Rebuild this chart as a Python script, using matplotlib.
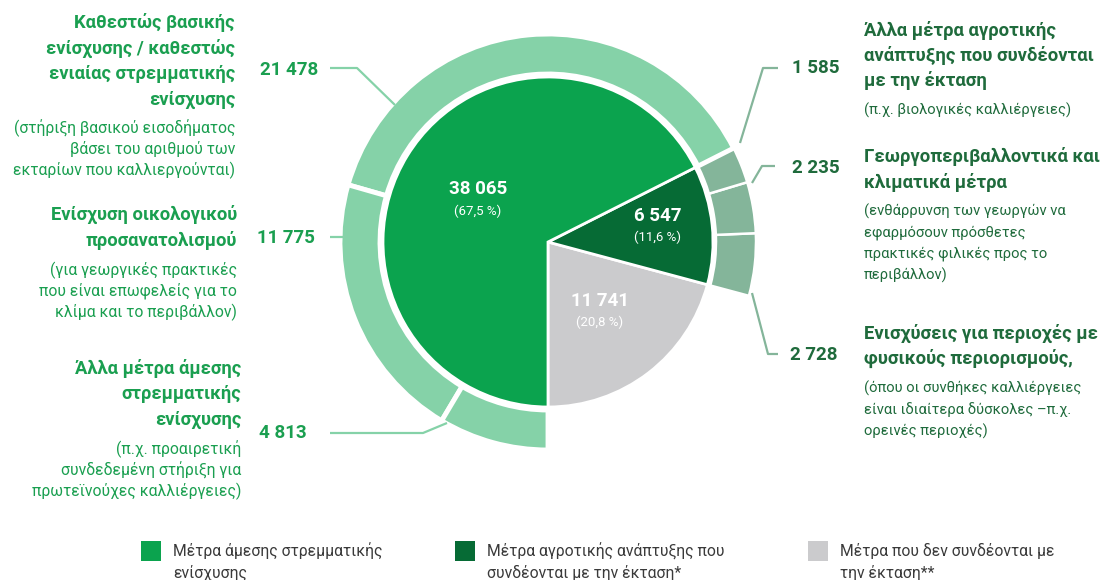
import numpy as np
import matplotlib
matplotlib.use('Agg')
import matplotlib.pyplot as plt
from matplotlib.patches import Rectangle

plt.rcParams['font.family'] = ['Roboto', 'DejaVu Sans']

# ---------------- data ----------------
main_categories = ['Μέτρα άμεσης στρεμματικής\nενίσχυσης',
                   'Μέτρα αγροτικής ανάπτυξης που\nσυνδέονται με την έκταση*',
                   'Μέτρα που δεν συνδέονται με\nτην έκταση**']
main_values = [38065, 6547, 11741]
main_value_labels = ['38 065', '6 547', '11 741']
main_pct_labels = ['(67,5 %)', '(11,6 %)', '(20,8 %)']

direct_values = [21478, 11775, 4813]
direct_value_labels = ['21 478', '11 775', '4 813']
direct_titles = ['Καθεστώς βασικής\nενίσχυσης / καθεστώς\nενιαίας στρεμματικής\nενίσχυσης',
                 'Ενίσχυση οικολογικού\nπροσανατολισμού',
                 'Άλλα μέτρα άμεσης\nστρεμματικής\nενίσχυσης']
direct_notes = ['(στήριξη βασικού εισοδήματος\nβάσει του αριθμού των\nεκταρίων που καλλιεργούνται)',
                '(για γεωργικές πρακτικές\nπου είναι επωφελείς για το\nκλίμα και το περιβάλλον)',
                '(π.χ. προαιρετική\nσυνδεδεμένη στήριξη για\nπρωτεϊνούχες καλλιέργειες)']

rural_values = [1585, 2235, 2728]
rural_value_labels = ['1 585', '2 235', '2 728']
rural_titles = ['Άλλα μέτρα αγροτικής\nανάπτυξης που συνδέονται\nμε την έκταση',
                'Γεωργοπεριβαλλοντικά και\nκλιματικά μέτρα',
                'Ενισχύσεις για περιοχές με\nφυσικούς περιορισμούς,']
rural_notes = ['(π.χ. βιολογικές καλλιέργειες)',
               '(ενθάρρυνση των γεωργών να\nεφαρμόσουν πρόσθετες\nπρακτικές φιλικές προς το\nπεριβάλλον)',
               '(όπου οι συνθήκες καλλιέργειες\nείναι ιδιαίτερα δύσκολες –π.χ.\nορεινές περιοχές)']

# ---------------- style ----------------
C_GREEN = '#0ba34e'
C_DARK = '#066b35'
C_GRAY = '#cbcbcd'
C_RING_L = '#85d2a8'
C_RING_R = '#84b59a'
C_TXT_L = '#1a9f50'
C_TXT_R = '#1f6b3c'
C_LEG = '#3a3a3a'

W, H = 1105, 580
fig = plt.figure(figsize=(W / 100, H / 100), dpi=100)
ax = fig.add_axes([0, 0, 1, 1])

def Y(y):
    return H - y

cx, cy = 548, Y(242)
r_in = 165
r_out = 208
ring_w = 40

# inner pie: counterclockwise from the bottom: gray, dark green, green
inner_vals = [main_values[2], main_values[1], main_values[0]]
inner_cols = [C_GRAY, C_DARK, C_GREEN]
w_in, _ = ax.pie(inner_vals, colors=inner_cols, startangle=270, counterclock=True,
                 radius=r_in, center=(cx, cy), frame=True,
                 wedgeprops=dict(edgecolor='white', linewidth=2))

# outer ring
ring_vals = [main_values[2]] + rural_values[::-1] + direct_values
ring_cols = ['none'] + [C_RING_R] * 3 + [C_RING_L] * 3
w_out, _ = ax.pie(ring_vals, colors=ring_cols, startangle=270, counterclock=True,
                  radius=r_out, center=(cx, cy), frame=True,
                  wedgeprops=dict(width=ring_w, edgecolor='white', linewidth=3.5))
w_out[0].set_edgecolor('none')
for w in w_out[1:4]:
    w.set_linewidth(1.8)

# labels within the pie
pie_label_pos = [(478, 189, 478, 211), (658, 216, 658, 237), (600, 301, 600, 322)]
for (xv, yv, xp, yp), vl, pl in zip(pie_label_pos, main_value_labels, main_pct_labels):
    ax.text(xv, Y(yv), vl, color='white', fontsize=13.5, fontweight='bold', ha='center', va='center')
    ax.text(xp, Y(yp), pl, color='white', fontsize=9.5, ha='center', va='center')

# connectors
def draw_line(pts, color):
    xs = [p[0] for p in pts]
    ys = [Y(p[1]) for p in pts]
    ax.plot(xs, ys, color=color, lw=1.6, solid_capstyle='butt')

left_lines = [[(330, 68), (357, 68), (395, 105)],
              [(330, 237), (343, 237)],
              [(330, 433), (423, 433), (447, 423)]]
right_lines = [[(778, 68), (763, 68), (740, 143)],
               [(775, 166), (762, 166), (752, 183)],
               [(778, 354), (768, 354), (752, 293)]]
for pts in left_lines:
    draw_line(pts, C_RING_L)
for pts in right_lines:
    draw_line(pts, C_RING_R)

# left texts
left_num_pos = [(318, 70), (315, 238), (307, 433)]
left_title_pos = [(235, 22), (237, 214), (241, 368)]
left_note_pos = [(235, 128), (237, 270), (241, 449)]
TS, NS = 26, 21
for lbl, (x, y) in zip(direct_value_labels, left_num_pos):
    ax.text(x, Y(y), lbl, color=C_TXT_L, fontsize=13.5, fontweight='bold', ha='right', va='center')
for t, (x, y) in zip(direct_titles, left_title_pos):
    for i, line in enumerate(t.split('\n')):
        ax.text(x, Y(y + i * TS), line, color=C_TXT_L, fontsize=13.2, fontweight='bold',
                ha='right', va='center')
for t, (x, y) in zip(direct_notes, left_note_pos):
    for i, line in enumerate(t.split('\n')):
        ax.text(x, Y(y + i * NS), line, color=C_TXT_L, fontsize=11.3, ha='right', va='center')

# right texts
right_num_pos = [(792, 68), (792, 168), (790, 355)]
right_title_pos = [(864, 30), (864, 157), (864, 333)]
right_note_pos = [(864, 110), (864, 211), (864, 388)]
for lbl, (x, y) in zip(rural_value_labels, right_num_pos):
    ax.text(x, Y(y), lbl, color=C_TXT_R, fontsize=13.5, fontweight='bold', ha='left', va='center')
for t, (x, y) in zip(rural_titles, right_title_pos):
    for i, line in enumerate(t.split('\n')):
        ax.text(x, Y(y + i * 25.5), line, color=C_TXT_R, fontsize=13.3, fontweight='bold',
                ha='left', va='center')
for t, (x, y) in zip(rural_notes, right_note_pos):
    for i, line in enumerate(t.split('\n')):
        ax.text(x, Y(y + i * 21.5), line, color=C_TXT_R, fontsize=10.6, ha='left', va='center')

# legend
leg_x = [141, 455, 808]
leg_cols = [C_GREEN, C_DARK, C_GRAY]
for x, c, lab in zip(leg_x, leg_cols, main_categories):
    ax.add_patch(Rectangle((x, Y(561)), 20, 20, facecolor=c, edgecolor='none'))
    for i, line in enumerate(lab.split('\n')):
        ax.text(x + 32, Y(551 + i * 22), line, color=C_LEG, fontsize=11.3, ha='left', va='center')

ax.set_xlim(0, W)
ax.set_ylim(0, H)
ax.set_aspect('equal')
ax.axis('off')

fig.savefig('out.png', dpi=100)
